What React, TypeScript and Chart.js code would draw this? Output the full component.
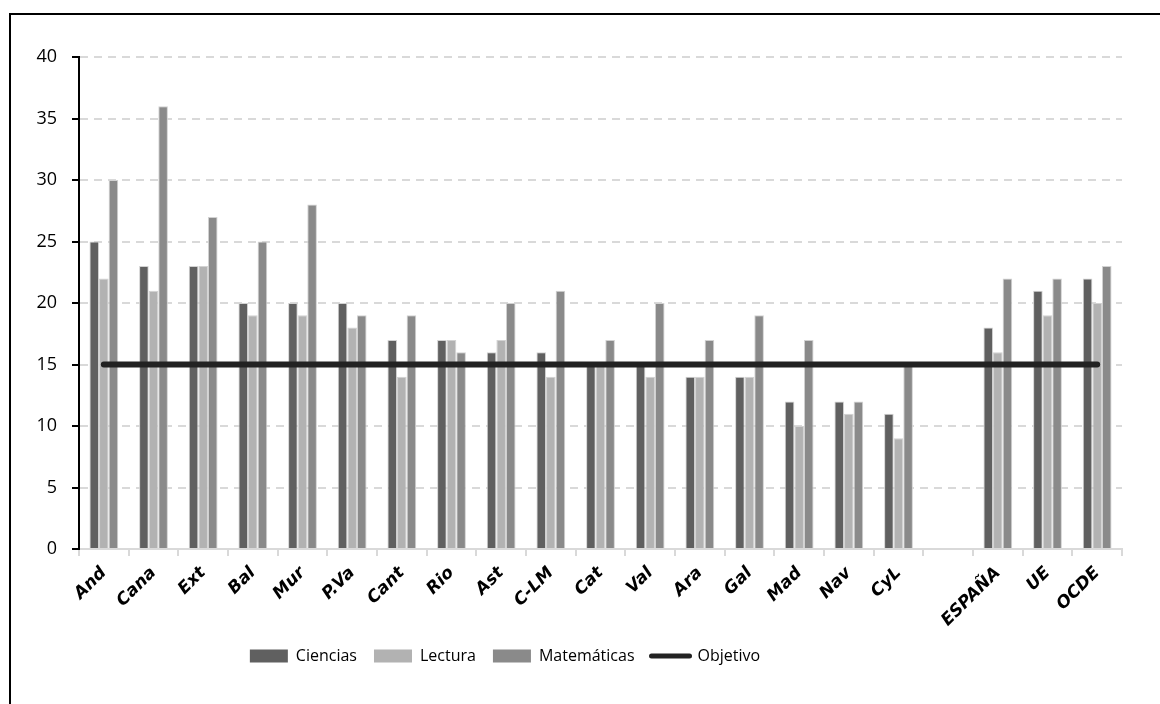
import React, { useEffect, useRef } from "react";
import { Chart, registerables } from "chart.js";

Chart.register(...registerables);

const categories = [
  "And", "Cana", "Ext", "Bal", "Mur", "P.Va", "Cant", "Rio", "Ast", "C-LM",
  "Cat", "Val", "Ara", "Gal", "Mad", "Nav", "CyL", "", "ESPAÑA", "UE", "OCDE",
];

const ciencias = [25, 23, 23, 20, 20, 20, 17, 17, 16, 16, 15, 15, 14, 14, 12, 12, 11, null, 18, 21, 22];
const lectura = [22, 21, 23, 19, 19, 18, 14, 17, 17, 14, 15, 14, 14, 14, 10, 11, 9, null, 16, 19, 20];
const matematicas = [30, 36, 27, 25, 28, 19, 19, 16, 20, 21, 17, 20, 17, 19, 17, 12, 15, null, 22, 22, 23];
const objetivo = [15, 15, 15, 15, 15, 15, 15, 15, 15, 15, 15, 15, 15, 15, 15, 15, 15, 15, 15, 15, 15];

const yTicks = [0, 5, 10, 15, 20, 25, 30, 35, 40];

const barBorder = "#d2d2d2";

// Moves the legend row left so it sits under the middle of the page frame.
const legendShift = {
  id: "legendShift",
  afterLayout(chart: any) {
    const lg = chart.legend;
    if (!lg) return;
    lg.left -= 56;
    lg.right -= 56;
  },
};

export default function App() {
  const canvasRef = useRef<HTMLCanvasElement | null>(null);

  useEffect(() => {
    if (!canvasRef.current) return;
    const chart = new Chart(canvasRef.current, {
      type: "bar",
      data: {
        labels: categories,
        datasets: [
          {
            label: "Ciencias",
            data: ciencias,
            backgroundColor: "#606060",
            borderColor: barBorder,
            borderWidth: 1,
            pointStyle: "rect",
            order: 1,
          },
          {
            label: "Lectura",
            data: lectura,
            backgroundColor: "#b2b2b2",
            borderColor: barBorder,
            borderWidth: 1,
            pointStyle: "rect",
            order: 1,
          },
          {
            label: "Matemáticas",
            data: matematicas,
            backgroundColor: "#8a8a8a",
            borderColor: barBorder,
            borderWidth: 1,
            pointStyle: "rect",
            order: 1,
          },
          {
            type: "line",
            label: "Objetivo",
            data: objetivo,
            borderColor: "#222222",
            backgroundColor: "#222222",
            borderWidth: 6,
            borderCapStyle: "round",
            pointRadius: 0,
            pointStyle: "line",
            order: 0,
          } as any,
        ],
      },
      options: {
        responsive: false,
        animation: false,
        layout: { padding: { left: 0, right: 38, top: 57, bottom: 30 } },
        datasets: {
          bar: { categoryPercentage: 0.58, barPercentage: 1.0 },
        },
        scales: {
          x: {
            offset: true,
            grid: {
              offset: true,
              drawOnChartArea: false,
              color: "#d9d9d9",
              lineWidth: 2,
              tickLength: 7,
            },
            border: { color: "#d9d9d9", width: 2 },
            ticks: {
              autoSkip: false,
              maxRotation: 45,
              minRotation: 45,
              padding: 7,
              color: "#000",
              font: { family: "DejaVu Sans", size: 17, style: "italic", weight: "bold" },
            },
            afterFit: (scale: any) => {
              scale.height = 82;
            },
          },
          y: {
            min: 0,
            max: 40,
            afterBuildTicks: (scale: any) => {
              scale.ticks = yTicks.map((v) => ({ value: v }));
            },
            grid: {
              color: (ctx: any) => (ctx.tick && ctx.tick.value === 0 ? "rgba(0,0,0,0)" : "#d9d9d9"),
              lineWidth: 2,
              tickColor: "#000",
              tickWidth: 2,
              tickLength: 7,
              tickBorderDash: [],
            } as any,
            border: { color: "#000", width: 2, dash: [8, 6] },
            ticks: {
              padding: 15,
              color: "#000",
              font: { family: "Open Sans", size: 18 },
            },
            afterFit: (scale: any) => {
              scale.width = 79;
            },
          },
        },
        plugins: {
          tooltip: { enabled: false },
          legend: {
            position: "bottom",
            labels: {
              usePointStyle: true,
              pointStyleWidth: 38,
              boxHeight: 13,
              padding: 17,
              color: "#000",
              font: { family: "Open Sans", size: 16 },
              sort: (a: any, b: any) => a.datasetIndex - b.datasetIndex,
              generateLabels: (ch: any) => {
                const items = Chart.defaults.plugins.legend.labels.generateLabels(ch);
                return items.map((it: any) => {
                  if (it.datasetIndex < 3) {
                    it.lineWidth = 0;
                    it.strokeStyle = "rgba(0,0,0,0)";
                  } else {
                    it.lineWidth = 5;
                    it.lineCap = "round";
                  }
                  return it;
                });
              },
            },
          },
        },
      },
      plugins: [legendShift],
    });
    return () => chart.destroy();
  }, []);

  return (
    <div
      style={{
        position: "fixed",
        left: 0,
        top: 0,
        width: 1160,
        height: 704,
        overflow: "hidden",
        background: "#fff",
      }}
    >
      <div
        style={{
          position: "absolute",
          left: 9,
          top: 13,
          width: 1300,
          height: 900,
          borderLeft: "2px solid #000",
          borderTop: "2px solid #000",
        }}
      />
      <canvas
        ref={canvasRef}
        width={1160}
        height={704}
        style={{ position: "absolute", left: 0, top: 0 }}
      />
    </div>
  );
}
